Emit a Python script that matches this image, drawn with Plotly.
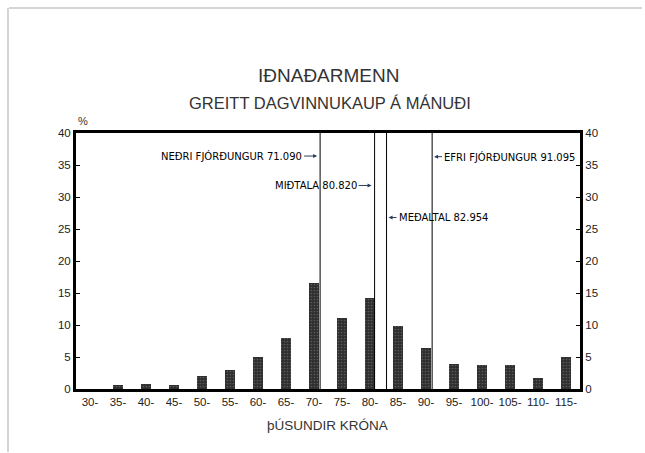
import plotly.graph_objects as go

# Data
bin_starts = [30, 35, 40, 45, 50, 55, 60, 65, 70, 75, 80, 85, 90, 95, 100, 105, 110, 115]
percent = [0.0, 0.6, 0.8, 0.6, 2.0, 3.0, 5.0, 8.0, 16.6, 11.1, 14.2, 9.8, 6.4, 3.9, 3.7, 3.7, 1.7, 5.0]
tick_labels = [f"{v}-" for v in bin_starts]
y_ticks = [0, 5, 10, 15, 20, 25, 30, 35, 40]

stat_names = ["NEÐRI FJÓRÐUNGUR 71.090", "MIÐTALA 80.820", "MEÐALTAL 82.954", "EFRI FJÓRÐUNGUR 91.095"]
stat_values = [71.090, 80.820, 82.954, 91.095]
stat_label_y = [36.4, 31.8, 26.8, 36.3]
stat_label_side = ["left", "left", "right", "right"]

FONT = "Liberation Sans, Arial, sans-serif"
WIDE = "DejaVu Sans, Verdana, sans-serif"

W, H = 645, 453
ml, mr, mt, mb = 76, 65, 133, 64
ph = H - mt - mb
pw = W - ml - mr

def py(ypix):
    return (H - mb - ypix) / ph

def px(xpix):
    return (xpix - ml) / pw

fig = go.Figure()
fig.add_trace(go.Bar(
    x=bin_starts, y=percent, width=1.8,
    marker=dict(color="#2e2e2e", line=dict(color="#111", width=0),
                pattern=dict(shape=".", fgcolor="#888", size=3, solidity=0.25)),
    showlegend=False, hoverinfo="x+y",
))
# invisible trace for right axis
fig.add_trace(go.Scatter(x=[bin_starts[0]], y=[0], yaxis="y2", mode="markers",
                         marker=dict(opacity=0), showlegend=False, hoverinfo="skip"))

for v in stat_values:
    fig.add_shape(type="line", x0=v, x1=v, y0=0, y1=40, xref="x", yref="y",
                  line=dict(color="black", width=1))

for name, v, yy, side in zip(stat_names, stat_values, stat_label_y, stat_label_side):
    if side == "left":
        fig.add_annotation(x=v, y=yy, xref="x", yref="y", text=name, showarrow=True,
                           ax=-16, ay=0, xanchor="right", arrowhead=2, arrowsize=0.8,
                           arrowwidth=1, standoff=3, font=dict(size=10, color="black", family=WIDE))
    else:
        fig.add_annotation(x=v, y=yy, xref="x", yref="y", text=name, showarrow=True,
                           ax=10, ay=0, xanchor="left", arrowhead=2, arrowsize=0.8,
                           arrowwidth=1, standoff=2, font=dict(size=10, color="black", family=WIDE))

def paper_text(xpix, ypix, text, size):
    fig.add_annotation(x=px(xpix), y=py(ypix), xref="paper", yref="paper", text=text,
                       showarrow=False, xanchor="center", yanchor="middle",
                       font=dict(size=size, color="#333", family=FONT))

paper_text(328, 75, "IÐNAÐARMENN", 19)
paper_text(330, 103, "GREITT DAGVINNUKAUP Á MÁNUÐI", 16.5)
paper_text(327, 425, "þÚSUNDIR KRÓNA", 13.5)
paper_text(83, 121, "%", 11)

# scan page edges
fig.add_shape(type="line", xref="paper", yref="paper", x0=px(9), x1=px(642), y0=py(8), y1=py(8),
              line=dict(color="#aaa", width=1))
fig.add_shape(type="line", xref="paper", yref="paper", x0=px(8), x1=px(8), y0=py(8), y1=py(452),
              line=dict(color="#aaa", width=1))

fig.update_layout(
    width=W, height=H,
    margin=dict(l=ml, r=mr, t=mt, b=mb),
    paper_bgcolor="white", plot_bgcolor="white",
    font=dict(family=FONT, size=11, color="#222"),
    bargap=0,
    xaxis=dict(range=[27.5, 117.5], tickvals=bin_starts, ticktext=tick_labels, tickangle=0,
               showgrid=False, zeroline=False, showline=True, linecolor="black", linewidth=3,
               mirror=True, ticks="", tickfont=dict(size=11.5), fixedrange=True),
    yaxis=dict(range=[0, 40], tickvals=y_ticks, showgrid=False, zeroline=False,
               showline=True, linecolor="black", linewidth=3, ticks="inside", ticklen=4,
               tickcolor="black", tickfont=dict(size=11.5)),
    yaxis2=dict(range=[0, 40], tickvals=y_ticks, overlaying="y", side="right",
                showgrid=False, zeroline=False, showline=True, linecolor="black", linewidth=3,
                ticks="inside", ticklen=4, tickcolor="black", tickfont=dict(size=11.5)),
)

fig.write_html("out.html", post_script="document.body.style.margin='0px';",
               config={"displayModeBar": False})
